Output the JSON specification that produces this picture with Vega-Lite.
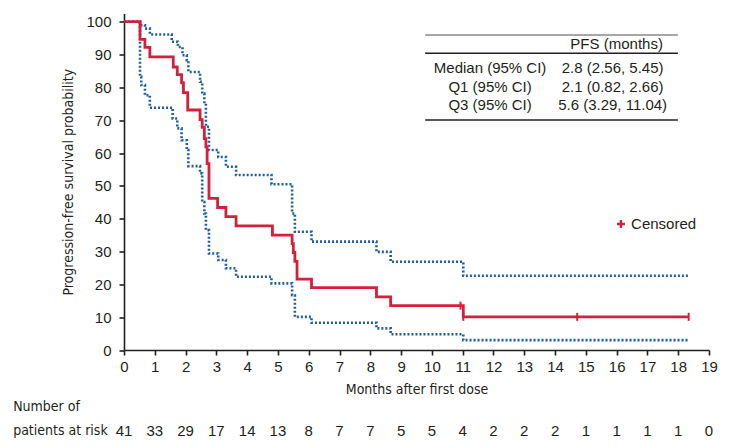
{
  "$schema": "https://vega.github.io/schema/vega-lite/v6.json",
  "width": 585,
  "height": 336.5,
  "autosize": {"type": "none"},
  "padding": {"left": 124, "top": 13.5, "right": 22, "bottom": 98},
  "background": "white",
  "config": {
    "view": {"stroke": null},
    "font": "Liberation Sans",
    "axis": {
      "domainColor": "#231f20", "domainWidth": 1.6,
      "tickColor": "#231f20", "tickWidth": 1.6, "tickSize": 5,
      "labelFont": "Liberation Sans", "labelFontSize": 15, "labelColor": "#231f20", "labelOverlap": false, "labelFlush": false,
      "titleFont": "DejaVu Sans Condensed, Liberation Sans Narrow, Liberation Sans, sans-serif", "titleFontSize": 14, "titleFontWeight": "normal", "titleColor": "#231f20",
      "grid": false
    }
  },
  "datasets": {
    "curves": [
      {"series": "est", "x": 0, "y": 100},
      {"series": "est", "x": 0.52, "y": 94.6},
      {"series": "est", "x": 0.68, "y": 92.2},
      {"series": "est", "x": 0.84, "y": 89.3},
      {"series": "est", "x": 1.6, "y": 86.2},
      {"series": "est", "x": 1.73, "y": 83.9},
      {"series": "est", "x": 1.87, "y": 81.4},
      {"series": "est", "x": 1.93, "y": 78.4},
      {"series": "est", "x": 2.07, "y": 73.1},
      {"series": "est", "x": 2.47, "y": 70.2},
      {"series": "est", "x": 2.54, "y": 67.8},
      {"series": "est", "x": 2.61, "y": 64.4},
      {"series": "est", "x": 2.66, "y": 61.9},
      {"series": "est", "x": 2.7, "y": 56.8},
      {"series": "est", "x": 2.76, "y": 46.2},
      {"series": "est", "x": 3.04, "y": 43.4},
      {"series": "est", "x": 3.31, "y": 40.6},
      {"series": "est", "x": 3.64, "y": 37.8},
      {"series": "est", "x": 4.82, "y": 35.0},
      {"series": "est", "x": 5.46, "y": 32.4},
      {"series": "est", "x": 5.5, "y": 29.7},
      {"series": "est", "x": 5.55, "y": 27.0},
      {"series": "est", "x": 5.62, "y": 21.6},
      {"series": "est", "x": 6.09, "y": 19.0},
      {"series": "est", "x": 8.2, "y": 16.2},
      {"series": "est", "x": 8.66, "y": 13.5},
      {"series": "est", "x": 11.02, "y": 10.1},
      {"series": "est", "x": 18.34, "y": 10.1},
      {"series": "upper", "x": 0, "y": 100},
      {"series": "upper", "x": 0.52, "y": 98.9},
      {"series": "upper", "x": 0.68, "y": 97.9},
      {"series": "upper", "x": 0.84, "y": 96.1},
      {"series": "upper", "x": 1.55, "y": 93.9},
      {"series": "upper", "x": 1.75, "y": 92.3},
      {"series": "upper", "x": 1.9, "y": 89.8},
      {"series": "upper", "x": 2.04, "y": 88.3},
      {"series": "upper", "x": 2.09, "y": 84.7},
      {"series": "upper", "x": 2.47, "y": 81.7},
      {"series": "upper", "x": 2.54, "y": 78.1},
      {"series": "upper", "x": 2.61, "y": 75.1},
      {"series": "upper", "x": 2.66, "y": 68.0},
      {"series": "upper", "x": 2.76, "y": 60.9},
      {"series": "upper", "x": 3.06, "y": 58.8},
      {"series": "upper", "x": 3.31, "y": 55.8},
      {"series": "upper", "x": 3.64, "y": 53.3},
      {"series": "upper", "x": 4.79, "y": 50.5},
      {"series": "upper", "x": 5.46, "y": 41.6},
      {"series": "upper", "x": 5.55, "y": 36.0},
      {"series": "upper", "x": 6.09, "y": 33.0},
      {"series": "upper", "x": 8.2, "y": 29.9},
      {"series": "upper", "x": 8.66, "y": 26.9},
      {"series": "upper", "x": 11.02, "y": 22.6},
      {"series": "upper", "x": 18.34, "y": 22.6},
      {"series": "lower", "x": 0, "y": 100},
      {"series": "lower", "x": 0.52, "y": 83.2},
      {"series": "lower", "x": 0.56, "y": 80.7},
      {"series": "lower", "x": 0.68, "y": 77.6},
      {"series": "lower", "x": 0.84, "y": 73.8},
      {"series": "lower", "x": 1.58, "y": 70.5},
      {"series": "lower", "x": 1.73, "y": 67.5},
      {"series": "lower", "x": 1.87, "y": 63.9},
      {"series": "lower", "x": 2.04, "y": 60.9},
      {"series": "lower", "x": 2.09, "y": 56.0},
      {"series": "lower", "x": 2.47, "y": 53.8},
      {"series": "lower", "x": 2.54, "y": 45.1},
      {"series": "lower", "x": 2.61, "y": 41.6},
      {"series": "lower", "x": 2.66, "y": 36.5},
      {"series": "lower", "x": 2.76, "y": 29.4},
      {"series": "lower", "x": 3.06, "y": 27.4},
      {"series": "lower", "x": 3.31, "y": 24.9},
      {"series": "lower", "x": 3.64, "y": 22.3},
      {"series": "lower", "x": 4.79, "y": 20.3},
      {"series": "lower", "x": 5.46, "y": 16.7},
      {"series": "lower", "x": 5.55, "y": 10.1},
      {"series": "lower", "x": 6.09, "y": 8.3},
      {"series": "lower", "x": 8.2, "y": 6.6},
      {"series": "lower", "x": 8.66, "y": 4.8},
      {"series": "lower", "x": 11.02, "y": 3.0},
      {"series": "lower", "x": 18.34, "y": 3.0}
    ],
    "censors": [
      {"x": 10.93, "y": 13.5},
      {"x": 11.02, "y": 10.1},
      {"x": 14.72, "y": 10.1},
      {"x": 18.34, "y": 10.1}
    ],
    "legendMark": [{"x": 16.14, "y": 38.4}],
    "legendText": [{"x": 16.47, "y": 38.4, "text": "Censored"}],
    "tableLines": [
      {"x": 9.78, "x2": 17.99, "y": 95.95, "c": "#8a8a8a"},
      {"x": 9.78, "x2": 17.99, "y": 90.4, "c": "#231f20"},
      {"x": 9.78, "x2": 17.99, "y": 70.06, "c": "#231f20"}
    ],
    "tableText": [
      {"x": 16.0, "y": 93.2, "text": "PFS (months)"},
      {"x": 11.89, "y": 85.8, "text": "Median (95% CI)"},
      {"x": 15.87, "y": 85.8, "text": "2.8 (2.56, 5.45)"},
      {"x": 11.89, "y": 80.2, "text": "Q1 (95% CI)"},
      {"x": 15.87, "y": 80.2, "text": "2.1 (0.82, 2.66)"},
      {"x": 11.89, "y": 74.6, "text": "Q3 (95% CI)"},
      {"x": 15.87, "y": 74.6, "text": "5.6 (3.29, 11.04)"}
    ],
    "atRisk": [
      {"x": 0, "y": -24.7, "text": "41"}, {"x": 1, "y": -24.7, "text": "33"}, {"x": 2, "y": -24.7, "text": "29"}, {"x": 3, "y": -24.7, "text": "17"},
      {"x": 4, "y": -24.7, "text": "14"}, {"x": 5, "y": -24.7, "text": "13"}, {"x": 6, "y": -24.7, "text": "8"}, {"x": 7, "y": -24.7, "text": "7"},
      {"x": 8, "y": -24.7, "text": "7"}, {"x": 9, "y": -24.7, "text": "5"}, {"x": 10, "y": -24.7, "text": "5"}, {"x": 11, "y": -24.7, "text": "4"},
      {"x": 12, "y": -24.7, "text": "2"}, {"x": 13, "y": -24.7, "text": "2"}, {"x": 14, "y": -24.7, "text": "2"}, {"x": 15, "y": -24.7, "text": "1"},
      {"x": 16, "y": -24.7, "text": "1"}, {"x": 17, "y": -24.7, "text": "1"}, {"x": 18, "y": -24.7, "text": "1"}, {"x": 19, "y": -24.7, "text": "0"}
    ],
    "atRiskLabel": [
      {"x": -3.6, "y": -17.4, "text": "Number of"},
      {"x": -3.6, "y": -24.7, "text": "patients at risk"}
    ]
  },
  "encoding": {
    "x": {"field": "x", "type": "quantitative", "scale": {"domain": [0, 19], "nice": false, "zero": false},
          "axis": {"values": [0,1,2,3,4,5,6,7,8,9,10,11,12,13,14,15,16,17,18,19], "labelOverlap": false, "labelFlush": false, "title": "Months after first dose", "labelPadding": 4, "titlePadding": 8}},
    "y": {"field": "y", "type": "quantitative", "scale": {"domain": [0, 102.5], "nice": false},
          "axis": {"values": [0,10,20,30,40,50,60,70,80,90,100], "labelOverlap": false, "labelFlush": false, "title": "Progression-free survival probability", "labelPadding": 8, "titlePadding": 10}}
  },
  "layer": [
    {
      "data": {"name": "curves"},
      "transform": [{"filter": "datum.series !== 'est'"}],
      "mark": {"type": "line", "interpolate": "step-after", "color": "#1f5f9f", "strokeWidth": 2.6, "strokeDash": [2, 2], "strokeCap": "butt"},
      "encoding": {"detail": {"field": "series"}}
    },
    {
      "data": {"name": "curves"},
      "transform": [{"filter": "datum.series === 'est'"}],
      "mark": {"type": "line", "interpolate": "step-after", "color": "#d3203b", "strokeWidth": 2.8},
      "encoding": {}
    },
    {
      "data": {"name": "censors"},
      "mark": {"type": "point", "shape": "M0,-1L0,1", "filled": false, "color": "#d3203b", "strokeWidth": 2, "size": 64, "opacity": 1}
    },
    {
      "data": {"name": "legendMark"},
      "mark": {"type": "point", "shape": "M-1,0L1,0M0,-1L0,1", "filled": false, "color": "#d3203b", "strokeWidth": 2.4, "size": 64, "opacity": 1}
    },
    {
      "data": {"name": "legendText"},
      "mark": {"type": "text", "align": "left", "baseline": "middle", "font": "Liberation Sans", "fontSize": 15, "color": "#231f20"},
      "encoding": {"text": {"field": "text"}}
    },
    {
      "data": {"name": "tableLines"},
      "mark": {"type": "rule", "strokeWidth": 1.4},
      "encoding": {
        "x2": {"field": "x2"},
        "color": {"field": "c", "type": "nominal", "scale": null}
      }
    },
    {
      "data": {"name": "tableText"},
      "mark": {"type": "text", "align": "center", "baseline": "middle", "font": "Liberation Sans", "fontSize": 15, "color": "#231f20"},
      "encoding": {"text": {"field": "text"}}
    },
    {
      "data": {"name": "atRisk"},
      "mark": {"type": "text", "align": "center", "baseline": "middle", "font": "Liberation Sans", "fontSize": 15, "color": "#231f20"},
      "encoding": {"text": {"field": "text"}}
    },
    {
      "data": {"name": "atRiskLabel"},
      "mark": {"type": "text", "align": "left", "baseline": "middle", "font": "DejaVu Sans Condensed, Liberation Sans Narrow, Liberation Sans, sans-serif", "fontSize": 14, "color": "#231f20"},
      "encoding": {"text": {"field": "text"}}
    }
  ]
}
